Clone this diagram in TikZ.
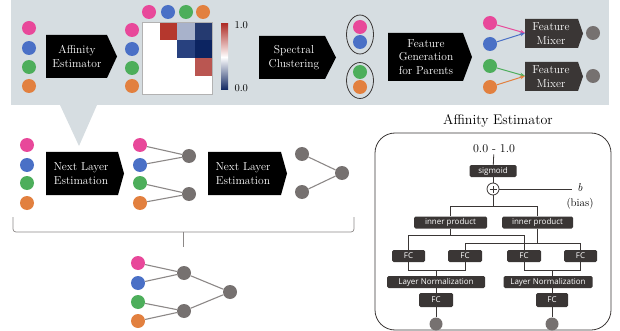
\documentclass[tikz,border=0pt]{standalone}
\usepackage{fontspec}
\newfontfamily\opensans{Open Sans}
\usetikzlibrary{arrows.meta,shapes.geometric}
\definecolor{panel}{HTML}{D6DDE1}
\definecolor{cpink}{HTML}{E8489A}
\definecolor{cblue}{HTML}{4A70C6}
\definecolor{cgreen}{HTML}{4DAE5B}
\definecolor{corange}{HTML}{E2803F}
\definecolor{cgray}{HTML}{767170}
\definecolor{boxdark}{HTML}{3A3635}
\definecolor{linegray}{HTML}{8C8887}
\definecolor{mA}{HTML}{B5372D}
\definecolor{mB}{HTML}{A8B2CB}
\definecolor{mC}{HTML}{253A70}
\definecolor{mD}{HTML}{28417F}
\definecolor{mE}{HTML}{0C2461}
\definecolor{mF}{HTML}{BA5651}
\definecolor{cbtop}{HTML}{B0302A}
\definecolor{cbbot}{HTML}{0E2560}
\newcommand\abox[6]{\fill[#6] (#1,#2) -- (#3,#2) -- (#4,{(#2+#5)/2}) -- (#3,#5) -- (#1,#5) -- cycle;}
\begin{document}
\begin{tikzpicture}[x=1pt,y=-1pt,
  dot/.style={circle,inner sep=0,minimum size=14},
  gdot/.style={dot,fill=cgray},
  btext/.style={text=white,align=center,font=\fontsize{11.5}{13.5}\selectfont},
  tline/.style={linegray,line width=1.1},
  rline/.style={boxdark,line width=0.8},
  rbox/.style={fill=boxdark,rounded corners=1.5,text=white,inner sep=0,minimum height=12,font=\opensans\fontsize{8}{8}\selectfont},
  cell/.style={inner sep=0,minimum width=17.5,minimum height=18}
]
\useasboundingbox (0,0) rectangle (620,331);
% panel
\fill[panel] (11,0) rectangle (609,105);
\fill[panel] (60,105) -- (97,105) -- (79,146) -- cycle;

% first column
\node[dot,fill=cpink] (a1) at (29,28) {};
\node[dot,fill=cblue] (a2) at (29,48) {};
\node[dot,fill=cgreen] (a3) at (29,67) {};
\node[dot,fill=corange] (a4) at (29,86) {};
\abox{46}{35}{107}{117}{78}{black}
\node[btext] (ae) at (77,56.5) {Affinity\\Estimator};

% second column
\node[dot,fill=cpink] (b1) at (132,30) {};
\node[dot,fill=cblue] (b2) at (132,49) {};
\node[dot,fill=cgreen] (b3) at (132,68) {};
\node[dot,fill=corange] (b4) at (132,86) {};
\node[dot,fill=cpink] (t1) at (149,12) {};
\node[dot,fill=cblue] (t2) at (168,12) {};
\node[dot,fill=cgreen] (t3) at (186,12) {};
\node[dot,fill=corange] (t4) at (203,12) {};
% matrix
\fill[white] (142,22) rectangle (212,94);
\node[cell,fill=mA] (m01) at (168.25,31) {};
\node[cell,fill=mB] (m02) at (185.75,31) {};
\node[cell,fill=mC] (m03) at (203.25,31) {};
\node[cell,fill=mD] (m12) at (185.75,49) {};
\node[cell,fill=mE] (m13) at (203.25,49) {};
\node[cell,fill=mF] (m23) at (203.25,67) {};
\draw[gray!60,line width=0.6] (142,22) rectangle (212,94);
% colorbar
\shade[top color=cbtop,bottom color=cbbot,middle color=white] (221,24) rectangle (228,90);
\node[anchor=west,font=\fontsize{10.5}{11}\selectfont] (l1) at (231,25) {1.0};
\node[anchor=west,font=\fontsize{10.5}{11}\selectfont] (l0) at (231,88) {0.0};

\abox{259}{36}{325}{336}{79}{black}
\node[btext] (sc) at (294,57.5) {Spectral\\Clustering};

% clusters
\node[draw=boxdark,line width=0.8,ellipse,minimum width=27,minimum height=39] (e1) at (360,34.5) {};
\node[draw=boxdark,line width=0.8,ellipse,minimum width=27,minimum height=36] (e2) at (360,80.5) {};
\node[dot,fill=cpink] (c1) at (360,27) {};
\node[dot,fill=cblue] (c2) at (360,42) {};
\node[dot,fill=cgreen] (c3) at (360,72) {};
\node[dot,fill=corange] (c4) at (360,87) {};

\abox{388}{33}{463}{472}{81}{black}
\node[btext] (fg) at (426,57) {Feature\\Generation\\for Parents};

% feature mixers
\node[dot,fill=cpink] (p1) at (490,23) {};
\node[dot,fill=cblue] (p2) at (490,44) {};
\node[dot,fill=cgreen] (p3) at (490,66) {};
\node[dot,fill=corange] (p4) at (490,87) {};
\abox{525}{19}{578}{583}{48}{boxdark}
\abox{525}{62}{578}{583}{91}{boxdark}
\node[btext] (fm1) at (551,33.5) {Feature\\Mixer};
\node[btext] (fm2) at (551,76.5) {Feature\\Mixer};
\coordinate (fm1in) at (525,33);
\coordinate (fm2in) at (525,76);
\draw[cpink,line width=1,-{Stealth[length=5pt,width=4pt]}] (p1) -- (fm1in);
\draw[cblue,line width=1,-{Stealth[length=5pt,width=4pt]}] (p2) -- (fm1in);
\draw[cgreen,line width=1,-{Stealth[length=5pt,width=4pt]}] (p3) -- (fm2in);
\draw[corange,line width=1,-{Stealth[length=5pt,width=4pt]}] (p4) -- (fm2in);
\node[gdot] (o1) at (593,33) {};
\node[gdot] (o2) at (593,76) {};

% lower left
\node[dot,fill=cpink] (d1) at (27,145) {};
\node[dot,fill=cblue] (d2) at (27,165) {};
\node[dot,fill=cgreen] (d3) at (27,183) {};
\node[dot,fill=corange] (d4) at (27,203) {};
\abox{46}{152}{118}{124}{195}{black}
\node[btext] (nl1) at (81,173.5) {Next Layer\\Estimation};

\node[gdot] (g1) at (189,156) {};
\node[gdot] (g2) at (189,194) {};
\node[dot,fill=cpink] (f1) at (140,145) {};
\node[dot,fill=cblue] (f2) at (140,165) {};
\node[dot,fill=cgreen] (f3) at (140,183) {};
\node[dot,fill=corange] (f4) at (140,203) {};
\draw[tline] (f1) -- (g1); \draw[tline] (f2) -- (g1);
\draw[tline] (f3) -- (g2); \draw[tline] (f4) -- (g2);

\abox{208}{152}{281}{287}{195}{black}
\node[btext] (nl2) at (243,173.5) {Next Layer\\Estimation};

\node[gdot] (h1) at (302,154) {};
\node[gdot] (h2) at (302,192) {};
\node[gdot] (h3) at (342,173) {};
\draw[tline] (h1) -- (h3); \draw[tline] (h2) -- (h3);

% brace
\draw[linegray,line width=0.7,rounded corners=3] (13,217) -- (13,232) -- (354,232) -- (354,217);
\coordinate (bm) at (183,232);
\coordinate (bt) at (183,247);
\draw[linegray,line width=0.7] (bm) -- (bt);

% bottom tree
\node[gdot] (r1) at (184,273) {};
\node[gdot] (r2) at (184,311) {};
\node[gdot] (r0) at (230,292) {};
\node[dot,fill=cpink] (q1) at (138,263) {};
\node[dot,fill=cblue] (q2) at (138,283) {};
\node[dot,fill=cgreen] (q3) at (138,302) {};
\node[dot,fill=corange] (q4) at (138,321) {};
\draw[tline] (q1) -- (r1); \draw[tline] (q2) -- (r1);
\draw[tline] (q3) -- (r2); \draw[tline] (q4) -- (r2);
\draw[tline] (r1) -- (r0); \draw[tline] (r2) -- (r0);

% right panel
\node[font=\fontsize{14}{16}\selectfont] (title) at (498,121) {Affinity Estimator};
\draw[boxdark,line width=0.8,rounded corners=20] (375,133) rectangle (611,330);
\node[font=\fontsize{12}{13}\selectfont,inner sep=1] (rng) at (494,149) {0.0 - 1.0};
\node[rbox,minimum width=47] (sig) at (493,171) {sigmoid};
\node[circle,draw=boxdark,line width=0.8,fill=white,inner sep=0,minimum size=12] (plus) at (493,189) {};
\draw[rline] ([yshift=-3.5]plus.center) -- ([yshift=3.5]plus.center) ([xshift=-3.5]plus.center) -- ([xshift=3.5]plus.center);
\coordinate (bx) at (572,189);
\node[font=\itshape\fontsize{11.5}{12}\selectfont] (bb) at (580,188) {b};
\node[font=\fontsize{11}{12}\selectfont] (bias) at (580,204) {(bias)};
\draw[rline] (rng) -- (sig);
\draw[rline] (sig) -- (plus);
\draw[rline] (plus) -- (bx);
\node[rbox,minimum width=73] (ipL) at (450.5,222.5) {inner product};
\node[rbox,minimum width=71] (ipR) at (537.5,222.5) {inner product};
\coordinate (split) at (493,206);
\draw[rline] (plus) -- (split);
\draw[rline] (split) -| (ipL);
\draw[rline] (split) -| (ipR);
\node[rbox,minimum width=33] (fc1) at (408.5,256) {FC};
\node[rbox,minimum width=34] (fc2) at (465,256) {FC};
\node[rbox,minimum width=34] (fc3) at (524,256) {FC};
\node[rbox,minimum width=33] (fc4) at (580.5,256) {FC};
\coordinate (jL) at (450.5,235);
\coordinate (jR) at (537.5,243);
\draw[rline] (ipL) -- (jL);
\draw[rline] (ipR) -- (jR);
\draw[rline] (fc1.north) |- (jL);
\draw[rline] (fc3.north) |- (jL);
\draw[rline] (fc2.north) |- (jR);
\draw[rline] (fc4.north) |- (jR);
\node[rbox,minimum width=98] (lnL) at (436,282) {Layer Normalization};
\node[rbox,minimum width=89] (lnR) at (548,282) {Layer Normalization};
\coordinate (kL) at (436,270);
\coordinate (kR) at (552,270);
\draw[rline] (fc1.south) |- (kL);
\draw[rline] (fc2.south) |- (kL);
\draw[rline] (kL) -- (lnL);
\draw[rline] (fc3.south) |- (kR);
\draw[rline] (fc4.south) |- (kR);
\draw[rline] (kR) -- (kR |- lnR.north);
\node[rbox,minimum width=34,minimum height=14] (fbL) at (436,300) {FC};
\node[rbox,minimum width=32,minimum height=14] (fbR) at (552,300) {FC};
\node[circle,fill=cgray,inner sep=0,minimum size=13] (outL) at (436,324) {};
\node[circle,fill=cgray,inner sep=0,minimum size=13] (outR) at (552,324) {};
\draw[rline] (lnL) -- (fbL);
\draw[rline] (fbL) -- (outL);
\draw[rline] (lnR.south -| fbR) -- (fbR);
\draw[rline] (fbR) -- (outR);
\end{tikzpicture}
\end{document}
